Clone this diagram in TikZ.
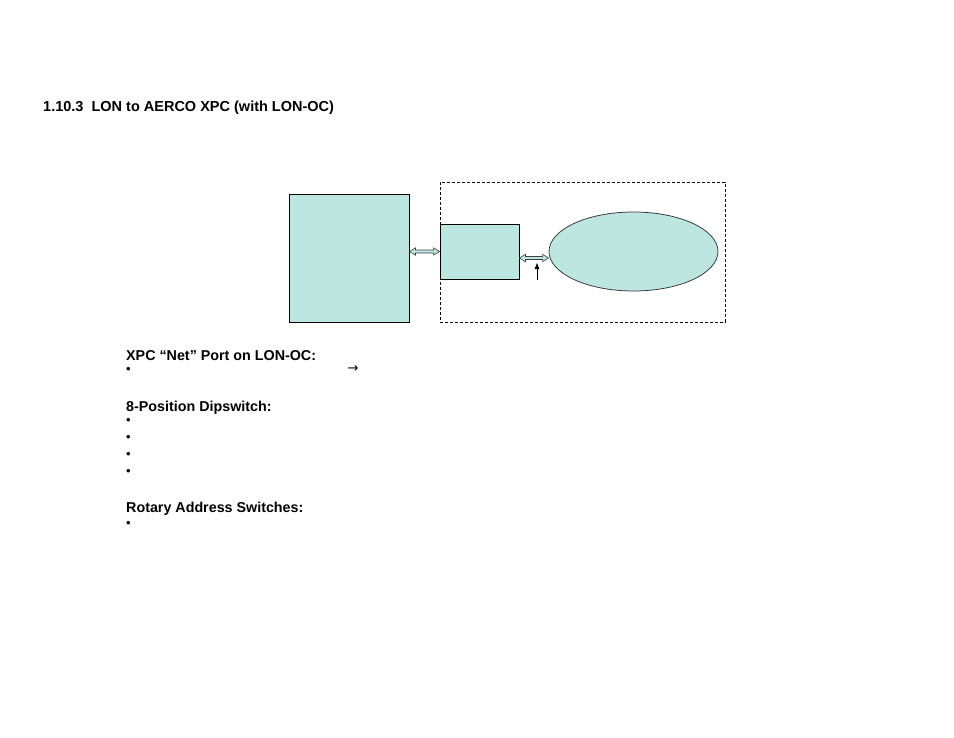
\documentclass[tikz,border=0pt]{standalone}
\usepackage{fontspec}
\setmainfont{Liberation Sans}
\newfontfamily\symfont{DejaVu Sans}
\usetikzlibrary{calc,arrows.meta,shapes.geometric}
\definecolor{boxfill}{RGB}{190,230,225}
\newcommand\blockarrow[2]{%
  \path[blockarr] let \p1=(#1), \p2=(#2) in
    (\x1,\y1) -- (\x1+6bp,\y1+3.7bp) -- (\x1+6bp,\y1+1.5bp) -- (\x2-6bp,\y1+1.5bp)
    -- (\x2-6bp,\y1+3.7bp) -- (\x2,\y1) -- (\x2-6bp,\y1-3.7bp) -- (\x2-6bp,\y1-1.5bp)
    -- (\x1+6bp,\y1-1.5bp) -- (\x1+6bp,\y1-3.7bp) -- cycle;}
\tikzset{
  tealbox/.style={draw=black, line width=0.9bp, fill=boxfill, rectangle, inner sep=0pt},
  frame/.style={draw=black, line width=0.9bp, dash pattern=on 3bp off 2bp, rectangle, inner sep=0pt},
  tealell/.style={draw=black!80, line width=0.75bp, fill=boxfill, ellipse, inner sep=0pt},
  blockarr/.style={draw=black!75, line width=0.6bp, fill=boxfill, line join=miter},
  head/.style={anchor=base west, inner sep=0pt, font=\fontsize{14.3bp}{17bp}\selectfont\bfseries},
  title/.style={anchor=base west, inner sep=0pt, font=\fontsize{14.5bp}{17bp}\selectfont\bfseries},
  bul/.style={anchor=center, inner sep=0pt, font=\fontsize{13bp}{15bp}\selectfont},
  symb/.style={anchor=center, inner sep=0pt, font=\symfont\fontsize{13bp}{15bp}\selectfont},
}
\begin{document}
\begin{tikzpicture}[x=1bp,y=-1bp]
\useasboundingbox (0,0) rectangle (954,738);
\fill[white] (0,0) rectangle (954,738);

% title
\node[title] (ttl) at (43,111) {1.10.3\ \ LON to AERCO XPC (with LON-OC)};

% diagram
\node[tealbox, minimum width=120bp, minimum height=128bp] (lon) at (349,258) {};
\node[frame, minimum width=285bp, minimum height=140bp] (frame) at (582.5,252) {};
\node[tealbox, minimum width=79bp, minimum height=55bp] (xpc) at (479.5,251.5) {};
\node[tealell, minimum width=169bp, minimum height=79bp] (ell) at (633.5,251.5) {};

\coordinate (a1s) at (lon.east |- xpc.west);
\blockarrow{a1s}{xpc.west}
\coordinate (a2s) at ($(xpc.east)+(0,6.5)$);
\coordinate (a2e) at (ell.west |- a2s);
\blockarrow{a2s}{a2e}

\coordinate (upfoot) at (537,280);
\coordinate (uptip) at (537,263);
\draw[line width=0.9bp, -{Triangle[length=6bp,width=4.5bp]}] (upfoot) -- (uptip);

% text below
\node[head] (h1) at (126,360) {XPC “Net” Port on LON-OC:};
\node[bul] (b1) at (128.5,370.5) {•};
\node[symb] (arr) at (353,369.5) {→};

\node[head] (h2) at (126,411) {8-Position Dipswitch:};
\node[bul] (b2) at (128.5,421.5) {•};
\node[bul] (b3) at (128.5,438.5) {•};
\node[bul] (b4) at (128.5,455.5) {•};
\node[bul] (b5) at (128.5,472.5) {•};

\node[head] (h3) at (126,512) {Rotary Address Switches:};
\node[bul] (b6) at (128.5,524.5) {•};
\end{tikzpicture}
\end{document}
